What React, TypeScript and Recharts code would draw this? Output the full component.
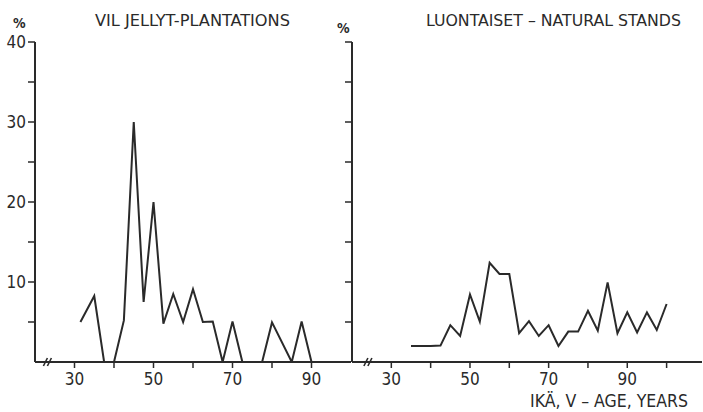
import React from 'react';
import { LineChart, Line, XAxis, YAxis, ReferenceDot } from 'recharts';

// Plantations (Viljellyt)
const plantAges = [31.5, 35, 37.5, 40, 42.5, 45, 47.5, 50, 52.5, 55, 57.5, 60, 62.5, 65, 67.5, 70, 72.5, 75, 77.5, 80, 85, 87.5, 90];
const plantPct = [5, 8.25, 0, 0, 5.2, 30, 7.5, 20, 4.8, 8.5, 5, 9.1, 5, 5.05, 0, 5.05, 0, 0, 0, 4.95, 0, 5.05, 0];

// Natural stands (Luontaiset)
const natAges = [35, 37.5, 40, 42.5, 45, 47.5, 50, 52.5, 55, 57.5, 60, 62.5, 65, 67.5, 70, 72.5, 75, 77.5, 80, 82.5, 85, 87.5, 90, 92.5, 95, 97.5, 100];
const natPct = [2, 2, 2, 2.05, 4.6, 3.25, 8.45, 5.05, 12.4, 11, 11, 3.6, 5.1, 3.25, 4.6, 2, 3.8, 3.8, 6.4, 3.9, 9.95, 3.6, 6.2, 3.7, 6.2, 4, 7.25];

const yTicks = [5, 10, 15, 20, 25, 30, 35, 40];
const xTicksLeft = [30, 40, 50, 60, 70, 80, 90];
const xTicksRight = [30, 40, 50, 60, 70, 80, 90, 100];
const labelledX = [30, 50, 70, 90];
const labelledY = [10, 20, 30, 40];

const plantData = plantAges.map((a, i) => ({ age: a, pct: plantPct[i] }));
const natData = natAges.map((a, i) => ({ age: a, pct: natPct[i] }));

const INK = '#2a2a2a';
const FONT = '"DejaVu Sans Condensed", "DejaVu Sans", sans-serif';

const BreakMark = (props: any) => {
  const { cx, cy } = props;
  return (
    <g stroke={INK} strokeWidth={1.6}>
      <line x1={cx - 5} y1={cy + 4} x2={cx - 1} y2={cy - 4} />
      <line x1={cx - 1} y1={cy + 4} x2={cx + 3} y2={cy - 4} />
    </g>
  );
};

const xFmt = (v: number) => (labelledX.includes(v) ? String(v) : '');
const yFmt = (v: number) => (labelledY.includes(v) ? String(v) : '');

export default function App() {
  return (
    <div style={{ position: 'absolute', left: 0, top: 0, width: 703, height: 412, background: '#fff' }}>
      <div style={{ position: 'absolute', left: 0, top: 0 }}>
        <LineChart width={360} height={412} data={plantData} margin={{ top: 42, right: 9, bottom: 0, left: 0 }}>
          <XAxis
            dataKey="age"
            type="number"
            domain={[20, 100]}
            ticks={xTicksLeft}
            interval={0}
            tickFormatter={xFmt}
            height={50}
            tickSize={6}
            tickMargin={5}
            axisLine={{ stroke: INK, strokeWidth: 2 }}
            tickLine={{ stroke: INK, strokeWidth: 1.5 }}
            tick={{ fill: INK, fontSize: 17, fontFamily: FONT }}
            allowDataOverflow
          />
          <YAxis
            type="number"
            domain={[0, 40]}
            ticks={yTicks}
            interval={0}
            tickFormatter={yFmt}
            width={35}
            tickSize={7}
            tickMargin={2}
            axisLine={{ stroke: INK, strokeWidth: 2 }}
            tickLine={{ stroke: INK, strokeWidth: 1.5 }}
            tick={{ fill: INK, fontSize: 17, fontFamily: FONT }}
            allowDataOverflow
          />
          <ReferenceDot x={23.4} y={0} r={0} shape={BreakMark} ifOverflow="visible" />
          <Line type="linear" dataKey="pct" stroke={INK} strokeWidth={2} dot={false} isAnimationActive={false} />
        </LineChart>
      </div>
      <div style={{ position: 'absolute', left: 300, top: 0 }}>
        <LineChart width={403} height={412} data={natData} margin={{ top: 42, right: 1, bottom: 0, left: 0 }}>
          <XAxis
            dataKey="age"
            type="number"
            domain={[20, 109]}
            ticks={xTicksRight}
            interval={0}
            tickFormatter={xFmt}
            height={50}
            tickSize={6}
            tickMargin={5}
            axisLine={{ stroke: INK, strokeWidth: 2 }}
            tickLine={{ stroke: INK, strokeWidth: 1.5 }}
            tick={{ fill: INK, fontSize: 17, fontFamily: FONT }}
            allowDataOverflow
          />
          <YAxis
            type="number"
            domain={[0, 40]}
            ticks={yTicks}
            interval={0}
            tickFormatter={() => ''}
            width={52}
            tickSize={7}
            axisLine={{ stroke: INK, strokeWidth: 2 }}
            tickLine={{ stroke: INK, strokeWidth: 1.5 }}
            allowDataOverflow
          />
          <ReferenceDot x={24.3} y={0} r={0} shape={BreakMark} ifOverflow="visible" />
          <Line type="linear" dataKey="pct" stroke={INK} strokeWidth={2} dot={false} isAnimationActive={false} />
        </LineChart>
      </div>
      <svg width={703} height={412} style={{ position: 'absolute', left: 0, top: 0, pointerEvents: 'none' }}>
        <g fill={INK} fontFamily={FONT}>
          <text x={95} y={26} fontSize={15} textLength={195} lengthAdjust="spacingAndGlyphs">VIL JELLYT-PLANTATIONS</text>
          <text x={426} y={26} fontSize={15} textLength={255} lengthAdjust="spacingAndGlyphs">LUONTAISET – NATURAL STANDS</text>
          <text x={530} y={407} fontSize={17} textLength={158} lengthAdjust="spacingAndGlyphs">IKÄ, V – AGE, YEARS</text>
          <text x={13} y={28} fontSize={14} fontWeight="bold">%</text>
          <text x={337} y={33} fontSize={14} fontWeight="bold">%</text>
        </g>
      </svg>
    </div>
  );
}
